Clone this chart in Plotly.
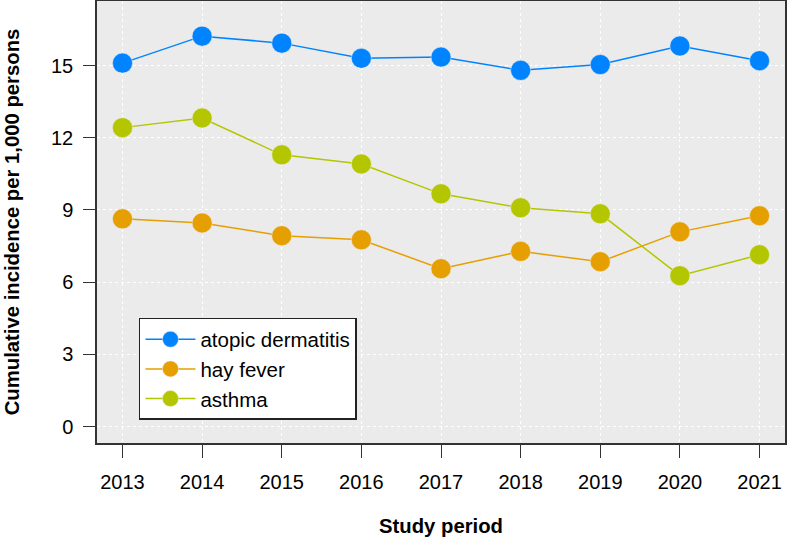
import plotly.graph_objects as go

years = [2013, 2014, 2015, 2016, 2017, 2018, 2019, 2020, 2021]
atopic_dermatitis = [15.1, 16.22, 15.93, 15.3, 15.35, 14.8, 15.04, 15.81, 15.2]
hay_fever = [8.63, 8.46, 7.93, 7.76, 6.56, 7.28, 6.85, 8.09, 8.76]
asthma = [12.42, 12.82, 11.29, 10.91, 9.67, 9.09, 8.84, 6.27, 7.14]

series_names = ["atopic dermatitis", "hay fever", "asthma"]
series_values = [atopic_dermatitis, hay_fever, asthma]
series_colors = ["#0083FF", "#E69F00", "#B4C600"]

y_ticks = [0, 3, 6, 9, 12, 15]

fig = go.Figure()
for name, vals, col in zip(series_names, series_values, series_colors):
    fig.add_trace(go.Scatter(
        x=years, y=vals, name=name, mode="lines+markers",
        line=dict(color=col, width=1.5),
        marker=dict(color=col, size=20, line=dict(width=0.5, color="#EBEBEB")),
    ))

font = "Liberation Sans, Arial, sans-serif"
fig.update_layout(
    width=787, height=537,
    margin=dict(l=97, r=2, t=1, b=94),
    paper_bgcolor="white",
    plot_bgcolor="#EBEBEB",
    font=dict(family=font, size=20, color="black"),
    showlegend=True,
    legend=dict(
        x=0.061, y=0.283, xanchor="left", yanchor="top",
        bgcolor="white", bordercolor="#222222", borderwidth=1.5,
        font=dict(size=20.5, family=font),
        tracegroupgap=0, itemwidth=50,
    ),
    xaxis=dict(
        range=[2012.68, 2021.32],
        tickmode="array", tickvals=years, ticktext=[str(y) for y in years],
        ticks="outside", ticklen=13, tickwidth=1.2, tickcolor="#333333",
        ticklabelstandoff=7,
        showline=True, linecolor="#333333", linewidth=1.5, mirror=True,
        showgrid=True, gridcolor="white", gridwidth=1, griddash="dot",
        zeroline=False, automargin=False,
        title=dict(text="<b>Study period</b>", font=dict(size=20.3), standoff=28),
        tickfont=dict(size=20),
    ),
    yaxis=dict(
        range=[-0.68, 17.68],
        tickmode="array", tickvals=y_ticks,
        ticks="outside", ticklen=12, tickwidth=1.2, tickcolor="#333333",
        ticklabelstandoff=6,
        showline=True, linecolor="#333333", linewidth=1.5, mirror=True,
        showgrid=True, gridcolor="white", gridwidth=1, griddash="dot",
        zeroline=False, automargin=False,
        title=dict(text="<b>Cumulative incidence per 1,000 persons</b>", font=dict(size=20.3), standoff=26),
        tickfont=dict(size=20),
    ),
)

fig.write_html("out.html", config={"displayModeBar": False},
               post_script="document.body.style.margin='0';")
